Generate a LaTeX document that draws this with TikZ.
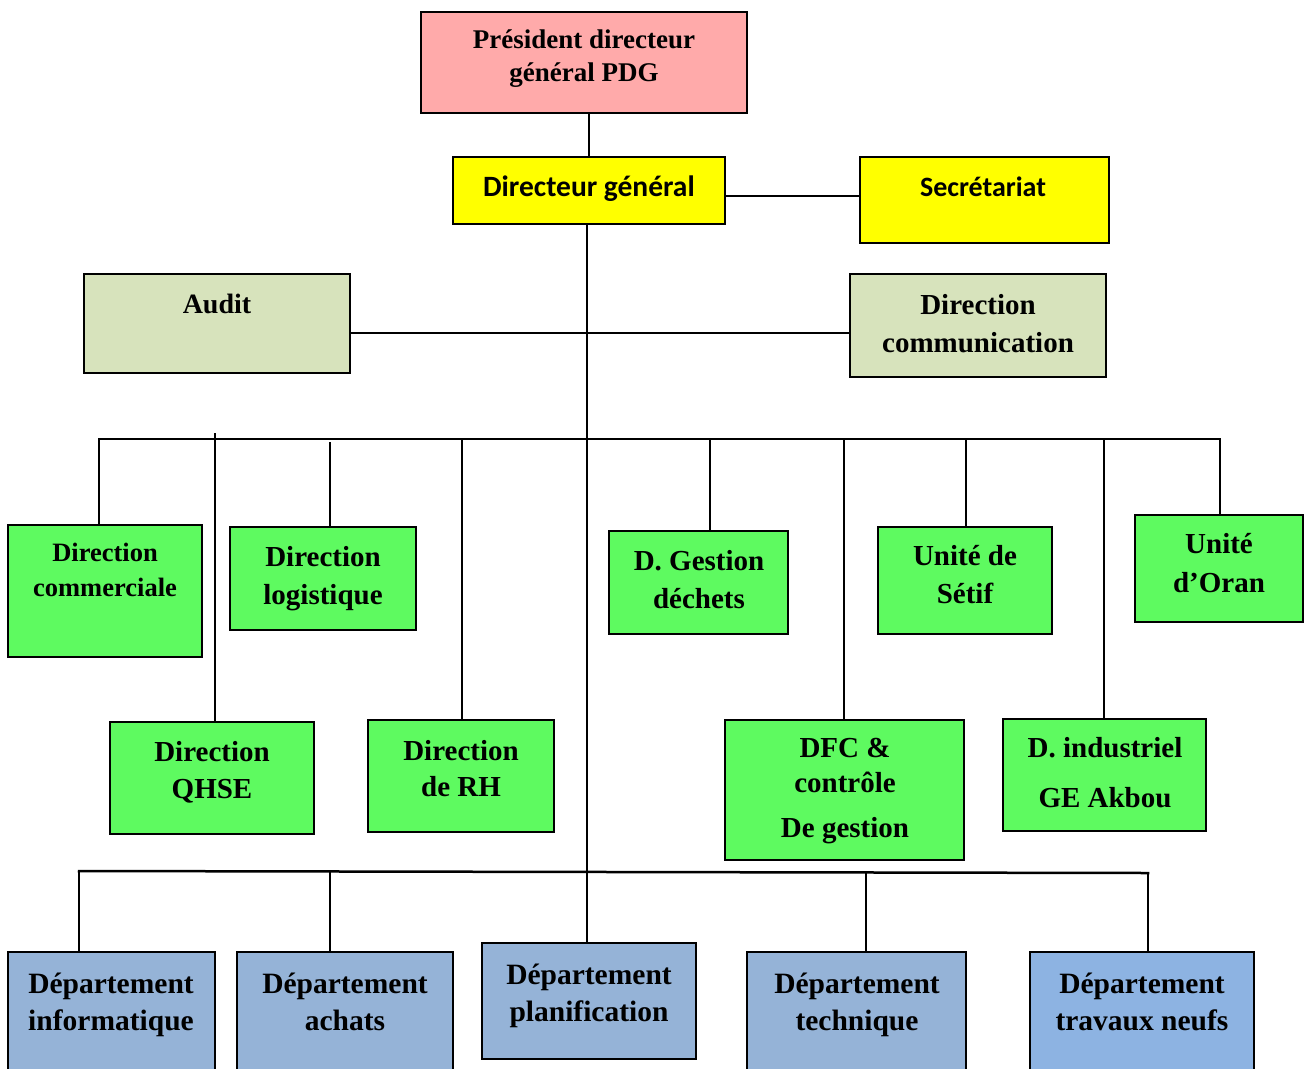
\documentclass[tikz,border=0pt]{standalone}
\usepackage{fontspec}
\setmainfont{Liberation Serif}
\newfontfamily\calfont{Carlito}
\definecolor{pdgpink}{RGB}{255,170,170}
\definecolor{dgyellow}{RGB}{255,255,0}
\definecolor{olivebox}{RGB}{215,227,188}
\definecolor{greenbox}{RGB}{94,250,96}
\definecolor{bluebox}{RGB}{149,179,215}
\definecolor{blueboxb}{RGB}{141,179,226}
\newcommand\orgbox[6]{%
  \node[box,#2,minimum width={#5-#3},minimum height={#6-#4}] (#1) at ({(#3+#5)/2},{(#4+#6)/2}) {};}
\tikzset{
  box/.style={draw=black,line width=2pt,inner sep=0pt,outer sep=0pt,rectangle},
  pinkbox/.style={fill=pdgpink},
  yelbox/.style={fill=dgyellow},
  olbox/.style={fill=olivebox},
  grbox/.style={fill=greenbox},
  blbox/.style={fill=bluebox},
  blboxb/.style={fill=blueboxb},
  conn/.style={line width=2pt,line cap=rect},
  txt/.style 2 args={align=center,inner sep=0pt,anchor=base,text=black,font=\bfseries\fontsize{#1}{#2}\selectfont},
  ctxt/.style={inner sep=0pt,anchor=base,text=black,font=\calfont\bfseries\fontsize{29.5}{35}\selectfont},
}
\begin{document}
\begin{tikzpicture}[x=1pt,y=-1pt]
\clip (0,0) rectangle (1308,1068);
\fill[white] (0,0) rectangle (1308,1068);
\coordinate (trunk) at (587,0);
\coordinate (ds) at (0,196);
\coordinate (ac) at (0,333);
\coordinate (busL) at (99,439);
\coordinate (busR) at (1220,439);
\coordinate (dqT) at (215,434);
\coordinate (dlT) at (330,443);
\coordinate (drT) at (462,439);
\coordinate (dgT) at (710,439);
\coordinate (dfT) at (844,439);
\coordinate (dsT) at (966,439);
\coordinate (diT) at (1104,439);
\coordinate (bbL) at (79,871);
\coordinate (bbR) at (1148,873);
\coordinate (baT) at (330,871.5);
\coordinate (btT) at (866,872.5);
% boxes
\orgbox{pdg}{pinkbox}{421}{12}{747}{113}
\orgbox{dg}{yelbox}{453}{157}{725}{224}
\orgbox{sec}{yelbox}{860}{157}{1109}{243}
\orgbox{audit}{olbox}{84}{274}{350}{373}
\orgbox{comm}{olbox}{850}{274}{1106}{377}
\orgbox{dcom}{grbox}{8}{525}{202}{657}
\orgbox{dlog}{grbox}{230}{527}{416}{630}
\orgbox{dgd}{grbox}{609}{531}{788}{634}
\orgbox{dset}{grbox}{878}{527}{1052}{634}
\orgbox{dora}{grbox}{1135}{515}{1303}{622}
\orgbox{dqhse}{grbox}{110}{722}{314}{834}
\orgbox{drh}{grbox}{368}{720}{554}{832}
\orgbox{dfc}{grbox}{725}{720}{964}{860}
\orgbox{dind}{grbox}{1003}{719}{1206}{831}
\orgbox{pinf}{blbox}{8}{952}{215}{1085}
\orgbox{pach}{blbox}{237}{952}{453}{1085}
\orgbox{ppla}{blbox}{482}{943}{696}{1059}
\orgbox{ptec}{blbox}{747}{952}{966}{1085}
\orgbox{ptra}{blboxb}{1030}{952}{1254}{1085}
% connectors
\draw[conn] (dg.north |- pdg.south) -- (dg.north);
\draw[conn] (dg.east |- ds) -- (sec.west |- ds);
\draw[conn] (dg.south -| trunk) -- (ppla.north -| trunk);
\draw[conn] (audit.east |- ac) -- (comm.west |- ac);
\draw[conn] (busL) -- (busR);
\draw[conn] (busL) -- (busL |- dcom.north);
\draw[conn] (dqT) -- (dqT |- dqhse.north);
\draw[conn] (dlT) -- (dlT |- dlog.north);
\draw[conn] (drT) -- (drT |- drh.north);
\draw[conn] (dgT) -- (dgT |- dgd.north);
\draw[conn] (dfT) -- (dfT |- dfc.north);
\draw[conn] (dsT) -- (dsT |- dset.north);
\draw[conn] (diT) -- (diT |- dind.north);
\draw[conn] (busR) -- (busR |- dora.north);
\draw[conn,line width=2.5pt] (bbL) -- (bbR);
\draw[conn] (bbL) -- (bbL |- pinf.north);
\draw[conn] (baT) -- (baT |- pach.north);
\draw[conn] (btT) -- (btT |- ptec.north);
\draw[conn] (bbR) -- (bbR |- ptra.north);
% texts (anchor = baseline of the last line)
\node[txt={27}{33}] (pdg-t) at (584,81.5) {Président directeur\\général PDG};
\node[ctxt] (dg-t) at (589,196) {Directeur général};
\node[ctxt,font=\calfont\bfseries\fontsize{28}{34}\selectfont] (sec-t) at (983,196) {Secrétariat};
\node[txt={28}{34}] (audit-t) at (217,313) {Audit};
\node[txt={29}{38}] (comm-t) at (978,352) {Direction\\communication};
\node[txt={26.5}{35}] (dcom-t) at (105,596) {Direction\\commerciale};
\node[txt={29}{38}] (dlog-t) at (323,604) {Direction\\logistique};
\node[txt={29}{38}] (dgd-t) at (699,608) {D. Gestion\\déchets};
\node[txt={29}{38}] (dset-t) at (965,603) {Unité de\\Sétif};
\node[txt={29}{39}] (dora-t) at (1219,592) {Unité\\d’Oran};
\node[txt={29}{37}] (dqhse-t) at (212,798) {Direction\\QHSE};
\node[txt={29}{36}] (drh-t) at (461,796) {Direction\\de RH};
\node[txt={29}{35}] (dfc-t) at (845,837) {DFC \&\\contrôle\\[10pt]De gestion};
\node[txt={29}{50}] (dind-t) at (1105,807) {D. industriel\\GE Akbou};
\node[txt={29.5}{37}] (pinf-t) at (111,1030) {Département\\informatique};
\node[txt={29.5}{37}] (pach-t) at (345,1030) {Département\\achats};
\node[txt={29.5}{37}] (ppla-t) at (589,1021) {Département\\planification};
\node[txt={29.5}{37}] (ptec-t) at (857,1030) {Département\\technique};
\node[txt={29.5}{37}] (ptra-t) at (1142,1030) {Département\\travaux neufs};
\end{tikzpicture}
\end{document}
